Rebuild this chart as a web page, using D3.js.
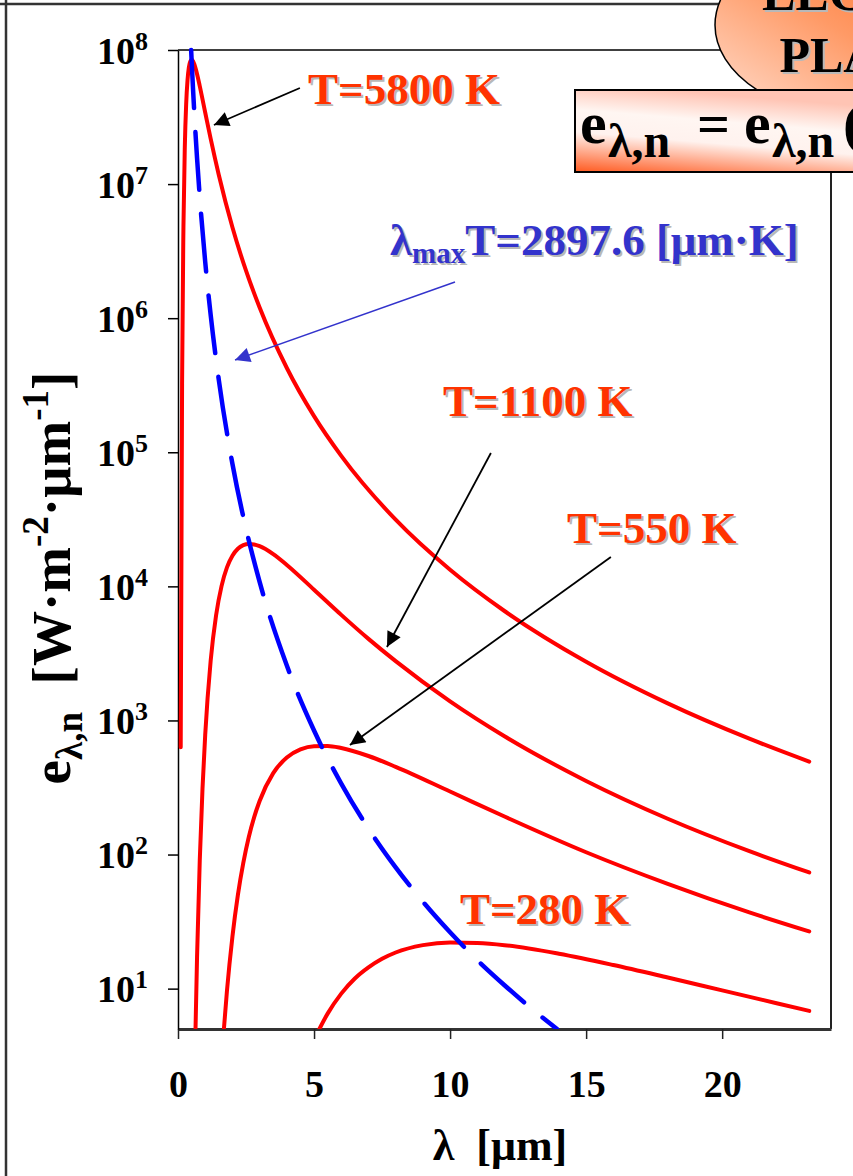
<!DOCTYPE html>
<html lang="it">
<head>
<meta charset="UTF-8">
<title>legge di planck</title>
<script src="https://d3js.org/d3.v7.min.js"></script>
<style>
    * { margin:0; padding:0; }
    body { background:#fff; }
    svg text { font-family:"Liberation Serif","Times New Roman",serif; font-weight:bold; }
</style>
</head>
<body>
<script>
    // values: wavelength [um] -> e [W m-2 um-1]
    var lam5800 = [0.1, 0.15, 0.2, 0.25, 0.3, 0.35, 0.4, 0.45, 0.5, 0.55, 0.6, 0.7, 0.8, 1.0, 1.2, 1.5, 2, 2.5, 3, 4, 5, 6, 8, 10, 12, 15, 18, 21, 23.2];
    var e5800 = [630, 3.24e5, 4.80e6, 1.88e7, 3.95e7, 5.96e7, 7.42e7, 8.22e7, 8.45e7, 8.27e7, 7.83e7, 6.63e7, 5.38e7, 3.42e7, 2.18e7, 1.17e7, 4.76e6, 2.26e6, 1.20e6, 4.25e5, 1.86e5, 9.40e4, 3.14e4, 1.33e4, 6550, 2740, 1340, 731, 493];

    var lam1100 = [0.64, 0.7, 0.8, 0.9, 1.0, 1.2, 1.4, 1.6, 1.8, 2.0, 2.2, 2.4, 2.6, 2.8, 3.0, 3.5, 4, 5, 6, 7, 8, 10, 12, 15, 18, 21, 23.2];
    var e1100 = [4.6, 17.1, 90.6, 309, 781, 2780, 6090, 10050, 13840, 16920, 19060, 20280, 20710, 20540, 19930, 17390, 14440, 9440, 6130, 4060, 2770, 1387, 762, 354, 185, 106, 73.5];

    var lam550 = [1.68, 1.8, 2.0, 2.2, 2.4, 2.6, 2.8, 3.0, 3.5, 4.0, 4.5, 5.0, 5.5, 6, 7, 8, 10, 12, 15, 18, 21, 23.2];
    var e550 = [4.8, 9.66, 24.4, 49.8, 86.7, 134.5, 190, 251, 405, 529, 608, 643, 645, 623, 543, 451, 295, 192, 104, 60.4, 37.0, 26.7];

    var lam280 = [5.15, 5.5, 6, 6.5, 7, 7.5, 8, 9, 10, 11, 12, 14, 16, 18, 20, 22, 23.2];
    var e280 = [4.8, 6.51, 9.18, 11.9, 14.4, 16.7, 18.6, 21.1, 22.1, 21.9, 21.1, 18.2, 15.0, 12.1, 9.70, 7.78, 6.82];

    // locus of the maxima (Wien)
    var lamWien = [0.483, 0.5, 0.55, 0.6, 0.7, 0.8, 1, 1.2, 1.5, 2, 2.5, 3, 4, 5, 6, 7, 8, 9, 10, 11, 12, 13, 13.93];
    var eWien = [1.0e8, 8.41e7, 5.22e7, 3.38e7, 1.56e7, 8.02e6, 2.63e6, 1.06e6, 3.46e5, 8.21e4, 2.69e4, 1.08e4, 2567, 841, 338, 156, 80.2, 44.5, 26.3, 16.3, 10.6, 7.08, 5.0];

    var xTicks = [0, 5, 10, 15, 20];
    var yTicks = [1e1, 1e2, 1e3, 1e4, 1e5, 1e6, 1e7, 1e8];
    var yTickExp = ["1", "2", "3", "4", "5", "6", "7", "8"];

    var tempLabels = ["T=5800 K", "T=1100 K", "T=550 K", "T=280 K"];
    // label anchor (left, baseline) and arrow tail/tip, in data units
    var labelAt = [[4.78, 3.96e7], [9.74, 1.865e5], [14.3, 2.106e4], [10.36, 30.3]];
    var arrows = [
        [[4.48, 5.21e7], [1.32, 2.76e7]],
        [[11.50, 9.87e4], [7.68, 3530]],
        [[15.91, 1.656e4], [6.32, 656]]
    ];
    var wienLabelAt = [7.79, 2.96e6];
    var wienArrow = [[10.18, 1.862e6], [2.095, 4.88e5]];

    var width = 853,
        height = 1176;
    var serif = "Liberation Serif, Times New Roman, serif";

    var x = d3.scaleLinear().domain([0, 24]).range([178, 831]);
    var y = d3.scaleLog().domain([5, 1e8]).range([1029, 50]);

    var svg = d3.select("body")
                .append("svg")
                .attr("width", width)
                .attr("height", height)
                .style("display", "block");

    var defs = svg.append("defs");
    defs.append("clipPath").attr("id", "plotclip")
        .append("rect").attr("x", 178).attr("y", 44).attr("width", 653).attr("height", 985);

    function marker(id, color) {
        defs.append("marker")
            .attr("id", id)
            .attr("viewBox", "0 0 10 10")
            .attr("refX", 10).attr("refY", 5)
            .attr("markerUnits", "userSpaceOnUse")
            .attr("markerWidth", 22).attr("markerHeight", 15)
            .attr("orient", "auto")
            .append("path").attr("d", "M0,0 L10,5 L0,10 z").attr("fill", color);
    }
    marker("arrBlack", "#000");
    marker("arrBlue", "#3333cc");

    var g1 = defs.append("linearGradient").attr("id", "bubbleFill")
        .attr("x1", 0).attr("y1", 1).attr("x2", 1).attr("y2", 0);
    g1.append("stop").attr("offset", 0).attr("stop-color", "#ffe0d2");
    g1.append("stop").attr("offset", 0.45).attr("stop-color", "#ff9a66");
    g1.append("stop").attr("offset", 1).attr("stop-color", "#ff5a0a");

    var g2 = defs.append("linearGradient").attr("id", "boxFill")
        .attr("x1", 0).attr("y1", 1).attr("x2", 0.3).attr("y2", 0);
    g2.append("stop").attr("offset", 0).attr("stop-color", "#ff5a20");
    g2.append("stop").attr("offset", 0.45).attr("stop-color", "#fff2ee");
    g2.append("stop").attr("offset", 0.7).attr("stop-color", "#fff6f2");
    g2.append("stop").attr("offset", 1).attr("stop-color", "#ffc4b4");

    // slide border
    svg.append("line").attr("x1", 6).attr("y1", 0).attr("x2", 6).attr("y2", height)
        .attr("stroke", "#333").attr("stroke-width", 2.5);
    svg.append("line").attr("x1", 0).attr("y1", 4).attr("x2", 760).attr("y2", 4)
        .attr("stroke", "#333").attr("stroke-width", 2.5);

    // plot frame
    svg.append("line").attr("x1", 178).attr("y1", 50).attr("x2", 831).attr("y2", 50)
        .attr("stroke", "#000").attr("stroke-width", 1.5);
    svg.append("line").attr("x1", 831).attr("y1", 50).attr("x2", 831).attr("y2", 1029)
        .attr("stroke", "#222").attr("stroke-width", 2);

    // axes
    var gx = svg.append("g")
        .attr("transform", "translate(0,1029)")
        .call(d3.axisBottom(x).tickValues(xTicks).tickSize(10).tickSizeOuter(0).tickFormat(""));
    gx.attr("font-family", serif);
    gx.select(".domain").attr("stroke", "#333").attr("stroke-width", 3);
    gx.selectAll(".tick line").attr("stroke", "#222").attr("stroke-width", 1.5);
    gx.selectAll(".tick").append("text")
        .attr("y", 68)
        .attr("fill", "#000")
        .attr("font-family", serif)
        .attr("font-weight", "bold")
        .attr("font-size", 38)
        .attr("text-anchor", "middle")
        .text(function(d) { return d; });

    var gy = svg.append("g")
        .attr("transform", "translate(178,0)")
        .call(d3.axisLeft(y).tickValues(yTicks).tickSize(10).tickSizeOuter(0).tickFormat(""));
    gy.attr("font-family", serif);
    gy.select(".domain").attr("stroke", "#000").attr("stroke-width", 1.5);
    gy.selectAll(".tick line").attr("stroke", "#000").attr("stroke-width", 1.5);
    gy.selectAll(".tick").each(function(d, i) {
        var t = d3.select(this).append("text")
            .attr("x", -30).attr("y", 13)
            .attr("fill", "#000")
            .attr("font-family", serif)
            .attr("font-weight", "bold")
            .attr("text-anchor", "end");
        t.append("tspan").attr("font-size", 38).text("10");
        t.append("tspan").attr("font-size", 26).attr("dy", -14).text(yTickExp[i]);
    });

    // curves
    var line = d3.line()
        .x(function(d) { return x(d[0]); })
        .y(function(d) { return y(d[1]); })
        .curve(d3.curveMonotoneX);

    var plot = svg.append("g").attr("clip-path", "url(#plotclip)");

    var curves = [[lam5800, e5800], [lam1100, e1100], [lam550, e550], [lam280, e280]];
    curves.forEach(function(c) {
        plot.append("path")
            .datum(d3.zip(c[0], c[1]))
            .attr("d", line)
            .attr("fill", "none")
            .attr("stroke", "#ff0000")
            .attr("stroke-width", 4)
            .attr("stroke-linecap", "round");
    });

    plot.append("path")
        .datum(d3.zip(lamWien, eWien))
        .attr("d", line)
        .attr("fill", "none")
        .attr("stroke", "#0000ff")
        .attr("stroke-width", 4.5)
        .attr("stroke-linecap", "round")
        .attr("stroke-dasharray", "58,24");

    // text helpers; a part is [text, size, dy, x]
    function richText(sel, px, py, parts, fill, anchor) {
        var t = sel.append("text")
            .attr("x", px).attr("y", py)
            .attr("fill", fill)
            .attr("font-family", serif)
            .attr("font-weight", "bold")
            .attr("text-anchor", anchor || "start")
            .style("white-space", "pre");
        parts.forEach(function(p) {
            var s = t.append("tspan").attr("font-size", p[1]).attr("dy", p[2] || 0).text(p[0]);
            if (p[3] !== undefined) s.attr("x", p[3]);
        });
        return t;
    }
    function shadowed(sel, px, py, parts, fill, anchor) {
        richText(sel, px + 2, py + 2, parts, "#b8b8b8", anchor);
        return richText(sel, px, py, parts, fill, anchor);
    }

    // annotations
    arrows.forEach(function(a) {
        svg.append("line")
            .attr("x1", x(a[0][0])).attr("y1", y(a[0][1]))
            .attr("x2", x(a[1][0])).attr("y2", y(a[1][1]))
            .attr("stroke", "#000").attr("stroke-width", 1.8)
            .attr("marker-end", "url(#arrBlack)");
    });
    svg.append("line")
        .attr("x1", x(wienArrow[0][0])).attr("y1", y(wienArrow[0][1]))
        .attr("x2", x(wienArrow[1][0])).attr("y2", y(wienArrow[1][1]))
        .attr("stroke", "#3333cc").attr("stroke-width", 1.5)
        .attr("marker-end", "url(#arrBlue)");

    tempLabels.forEach(function(s, i) {
        shadowed(svg, x(labelAt[i][0]), y(labelAt[i][1]), [[s, 45]], "#ff3300");
    });
    shadowed(svg, x(wienLabelAt[0]), y(wienLabelAt[1]),
        [["\u03bb", 45], ["max", 29, 8], ["T=2897.6 [\u03bcm\u00b7K]", 45, -8]], "#3333cc");

    // axis titles
    richText(svg, 500, 1160, [["\u03bb  [\u03bcm]", 44]], "#000", "middle");
    var yl = svg.append("g").attr("transform", "translate(70,578) rotate(-90)");
    richText(yl, 0, 0, [["e", 55], ["\u03bb,n", 37, 12], ["  [W\u00b7m", 55, -12], ["-2", 37, -22],
        ["\u00b7\u03bcm", 55, 22], ["-1", 37, -22], ["]", 55, 22]], "#000", "middle");

    // title bubble and formula box (cut by the slide edge, as in the slide)
    svg.append("ellipse")
        .attr("cx", 860).attr("cy", 25).attr("rx", 145).attr("ry", 92)
        .attr("fill", "url(#bubbleFill)")
        .attr("stroke", "#000").attr("stroke-width", 1.5);
    shadowed(svg, 885, 10, [["LEGGE DI", 50]], "#000", "middle");
    shadowed(svg, 885, 72, [["PLANCK", 50]], "#000", "middle");

    svg.append("rect")
        .attr("x", 575).attr("y", 90).attr("width", 300).attr("height", 82)
        .attr("fill", "url(#boxFill)")
        .attr("stroke", "#000").attr("stroke-width", 2);
    richText(svg, 580, 143, [["e", 60, 0, 580], ["\u03bb,n", 48, 14, 608], ["=", 58, -14, 697],
        ["e", 60, 0, 744], ["\u03bb,n", 48, 14, 772], ["(\u03bb,T)", 58, -14, 843]], "#000");
</script>
</body>
</html>
